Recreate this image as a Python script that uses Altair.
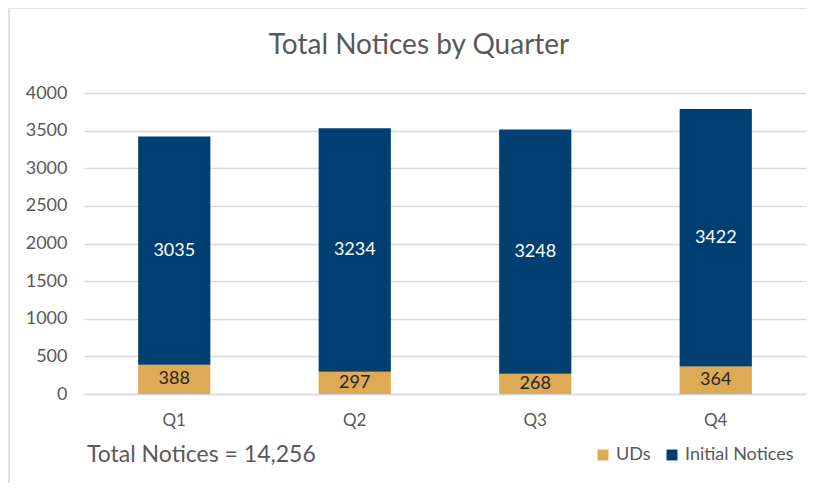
import altair as alt
import pandas as pd

quarters = ["Q1", "Q2", "Q3", "Q4"]
uds = [388, 297, 268, 364]
initial = [3035, 3234, 3248, 3422]
series = ["UDs", "Initial Notices"]
colors = ["#DFAA56", "#003F72"]
label_colors = ["#262626", "#FFFFFF"]
title_text = "Total Notices by Quarter"

rows = []
for i, q in enumerate(quarters):
    rows.append({"quarter": q, "series": "UDs", "value": uds[i], "ord": 0})
    rows.append({"quarter": q, "series": "Initial Notices", "value": initial[i], "ord": 1})
df = pd.DataFrame(rows)
total = sum(uds) + sum(initial)
total_text = f"Total Notices = {total:,}"

FONT = "Lato"
GRAY = "#595959"

base = alt.Chart(df).transform_stack(
    stack="value", as_=["v0", "v1"], groupby=["quarter"], sort=[alt.SortField("ord")]
).transform_calculate(mid="(datum.v0 + datum.v1) / 2")

x_axis = alt.Axis(labelAngle=0, ticks=False, domain=True, domainColor="#D9D9D9",
                  domainWidth=1.5, labelFont=FONT, labelFontSize=17, labelColor=GRAY,
                  labelPadding=18, grid=False)
y_axis = alt.Axis(values=list(range(0, 4001, 500)), format="d", ticks=False, domain=False,
                  gridColor="#D9D9D9", gridWidth=1.5,
                  labelFont=FONT, labelFontSize=18, labelColor=GRAY, labelPadding=17)
x_scale = alt.Scale(paddingInner=0.6, paddingOuter=0.3)
y_scale = alt.Scale(domain=[0, 4000])

bars = base.mark_bar().encode(
    x=alt.X("quarter:N", sort=quarters, title=None, scale=x_scale, axis=x_axis),
    y=alt.Y("v0:Q", title=None, scale=y_scale, axis=y_axis),
    y2="v1:Q",
    color=alt.Color("series:N", scale=alt.Scale(domain=series, range=colors),
                    legend=alt.Legend(title=None, orient="none", direction="horizontal",
                                      legendX=510, legendY=353, symbolType="square",
                                      symbolSize=120, symbolStrokeWidth=0,
                                      labelFont=FONT, labelFontSize=18, labelColor=GRAY,
                                      columnPadding=12, labelOffset=4)),
    order=alt.Order("ord:Q"),
)

labels = base.mark_text(font=FONT, fontSize=18, baseline="middle").encode(
    x=alt.X("quarter:N", sort=quarters, title=None, scale=x_scale, axis=x_axis),
    y=alt.Y("mid:Q", title=None, scale=y_scale, axis=y_axis),
    text=alt.Text("value:Q"),
    color=alt.Color("series:N", scale=alt.Scale(domain=series, range=label_colors), legend=None),
)

text_df = pd.DataFrame({"t": [total_text], "title": [title_text]})
total_mark = alt.Chart(text_df).mark_text(
    font=FONT, fontSize=23, color=GRAY, align="left", baseline="middle"
).encode(x=alt.value(3), y=alt.value(362), text="t:N")

title_mark = alt.Chart(text_df).mark_text(
    font=FONT, fontSize=28, color=GRAY, align="center", baseline="middle"
).encode(x=alt.value(335), y=alt.value(-47), text="title:N")

border = alt.Chart(text_df).mark_rect(
    fill=None, stroke="#D9D9D9", strokeWidth=1.5
).encode(x=alt.value(-75), x2=alt.value(760), y=alt.value(-85), y2=alt.value(420))

chart = alt.layer(border, bars, labels, total_mark, title_mark).resolve_scale(
    color="independent"
).properties(
    width=722, height=301,
    autosize=alt.AutoSizeParams(type="none"),
    padding={"left": 76, "top": 85, "right": 1, "bottom": 89},
).configure(background="white").configure_view(stroke=None)

chart.save("out.html", embed_options={"renderer": "svg", "actions": False})
